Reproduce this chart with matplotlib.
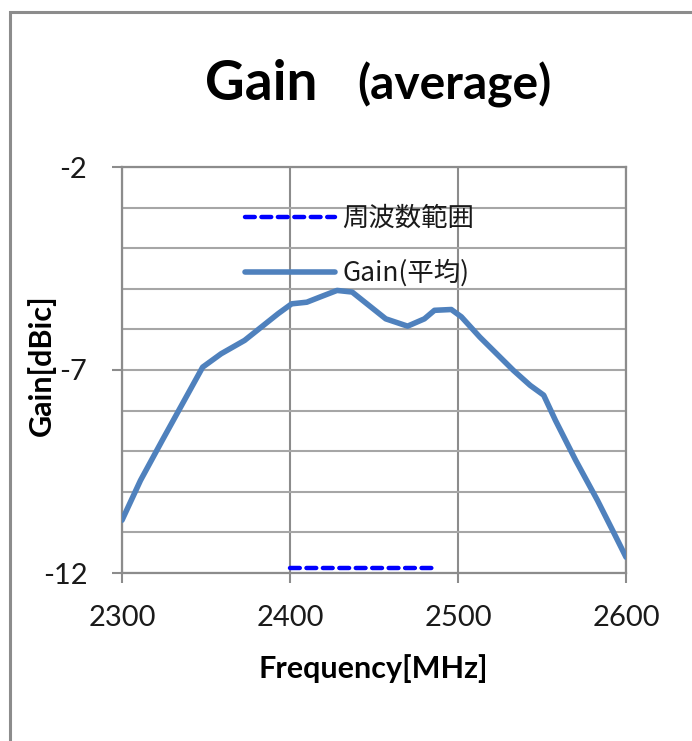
import matplotlib
matplotlib.use("Agg")
import matplotlib.pyplot as plt
from matplotlib.patches import Rectangle
from matplotlib.ticker import FixedLocator, MultipleLocator

plt.rcParams["axes.unicode_minus"] = False

# Gain(average) data
freq = [2300, 2311, 2324, 2336, 2348, 2359, 2373, 2383, 2393, 2401, 2410, 2418,
        2428, 2437, 2447, 2457, 2470, 2480, 2486, 2496, 2502, 2513, 2523, 2533,
        2543, 2551, 2558, 2570, 2583, 2593, 2600]
gain = [-10.70, -9.72, -8.73, -7.83, -6.93, -6.60, -6.27, -5.94, -5.61, -5.37, -5.33, -5.20,
        -5.04, -5.08, -5.41, -5.74, -5.92, -5.74, -5.53, -5.51, -5.69, -6.19, -6.60, -7.01,
        -7.38, -7.62, -8.24, -9.22, -10.21, -11.03, -11.61]

# frequency range marker
band_freq = [2400, 2485]
band_level = [-11.88, -11.88]

labels = ["周波数範囲", "Gain(平均)"]
y_ticks = [-12, -7, -2]

W, H = 692, 741
fig = plt.figure(figsize=(W / 100, H / 100), dpi=100)
fig.patch.set_facecolor("white")

# outer chart border
fig.patches.append(Rectangle((10 / W, -0.1), 1.2, 1 - 12 / H + 0.1, transform=fig.transFigure,
                             fill=False, edgecolor="#8c8c8c", linewidth=2.2))

ax = fig.add_axes([122 / W, (H - 573) / H, 504 / W, 406 / H])

ax.plot(band_freq, band_level, color="#0000ff", linewidth=3.2,
        linestyle=(0, (2.2, 1.5)), dash_capstyle="round", label=labels[0], zorder=3)
ax.plot(freq, gain, color="#4f81bd", linewidth=4.0, solid_capstyle="round",
        label=labels[1], zorder=4)

ax.set_xlim(2300, 2600)
ax.set_ylim(-12, -2)
ax.xaxis.set_major_locator(MultipleLocator(100))
ax.yaxis.set_major_locator(FixedLocator(y_ticks))
ax.yaxis.set_minor_locator(MultipleLocator(1))

ax.grid(axis="y", which="both", color="#a6a6a6", linewidth=1.5, zorder=1)
ax.grid(axis="x", which="major", color="#8c8c8c", linewidth=1.5, zorder=1)
for s in ax.spines.values():
    s.set_color("#8c8c8c")
    s.set_linewidth(1.6)

ax.tick_params(axis="both", which="major", direction="out", length=7, width=1.5,
               color="#8c8c8c", labelsize=21)
ax.tick_params(axis="y", which="minor", length=0)
ax.tick_params(axis="y", which="major", pad=18)
ax.tick_params(axis="x", which="major", pad=16)
for lab in ax.get_xticklabels() + ax.get_yticklabels():
    lab.set_fontfamily("Lato")
    lab.set_color("#1a1a1a")

ax.set_xlabel("Frequency[MHz]", fontfamily="Lato", fontweight="bold", fontsize=22)
ax.set_ylabel("Gain[dBic]", fontfamily="Lato", fontweight="bold", fontsize=22)
ax.xaxis.label.set_va("center")
ax.yaxis.label.set_va("center")
ax.xaxis.set_label_coords((373 - 122) / 504, (573 - 669) / 406)
ax.yaxis.set_label_coords((41 - 122) / 504, (573 - 365) / 406)

leg = ax.legend(loc="upper left", bbox_to_anchor=((245 - 122) / 504, (573 - 205) / 406),
                frameon=False, borderpad=0, borderaxespad=0, handlelength=3.4,
                handletextpad=0.3, labelspacing=1.05,
                prop={"family": ["Noto Sans CJK JP", "DejaVu Sans"], "size": 19})
for t in leg.get_texts():
    t.set_color("#1a1a1a")

fig.text(205 / W, 1 - 100 / H, "Gain", fontfamily="Lato", fontweight="bold", fontsize=39.5,
         va="baseline", ha="left")
fig.text(357 / W, 1 - 100 / H, "(average)", fontfamily="Lato", fontweight="bold", fontsize=34.5,
         va="baseline", ha="left")

fig.savefig("out.png", dpi=100)
